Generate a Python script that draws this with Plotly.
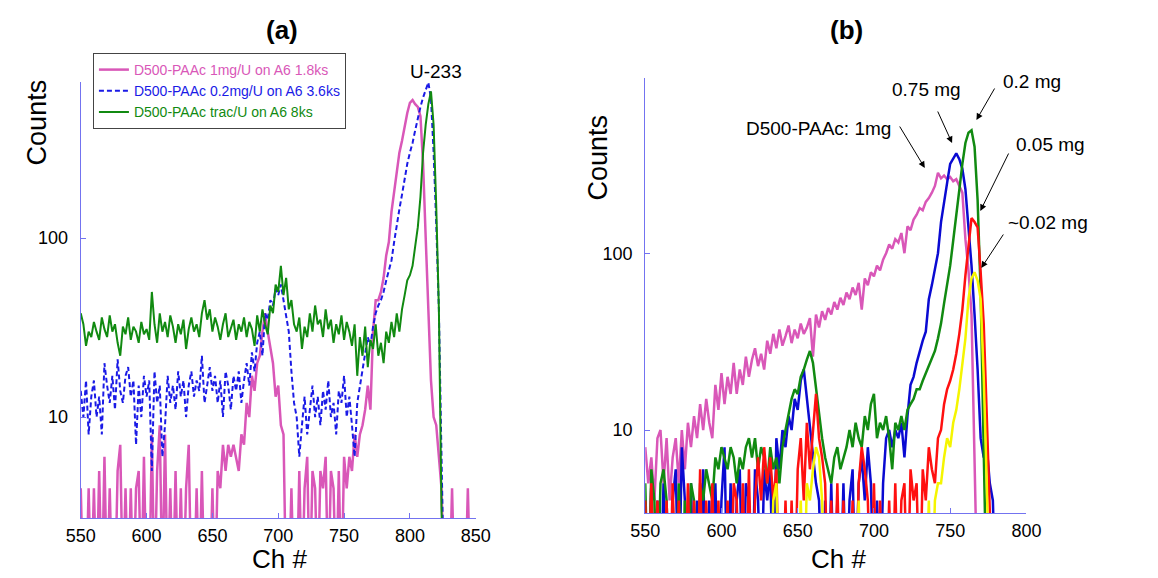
import plotly.graph_objects as go

W = 1158
H = 578
FONT = 'Liberation Sans, Arial, sans-serif'
AXIS_BLUE = '#7373f0'

PINK = '#d957b8'
BLUE_A = '#1a1ae6'
GREEN = '#118a11'
BLUE_B = '#0a0ad2'
RED = '#ff1010'
YELLOW = '#f5f500'

# channel step used when reading the spectra off the picture
STEP = 2
START_CH = 550

# ---- panel (a): U-233 spectra, counts per channel (550 .. 850) ----
a_names = ['D500-PAAc 1mg/U on A6 1.8ks',
           'D500-PAAc 0.2mg/U on A6 3.6ks',
           'D500-PAAc trac/U on A6 8ks']

a_pink = [4, 1, 1, 4, 1, 4, 1, 5, 1, 6,
          1, 4, 1, 1, 5, 7, 1, 4, 1, 4,
          1, 4, 5, 1, 6, 1, 1, 8, 1, 5,
          9, 1, 8, 1, 4, 1, 5, 1, 4, 1,
          4, 7, 1, 1, 4, 1, 5, 1, 1, 1,
          4, 1, 5, 4, 7, 5, 7, 6, 7, 6,
          5, 8, 7, 12, 10, 17, 14, 20, 22, 30,
          38, 30, 24, 20, 13, 15, 9, 8, 1, 1,
          4, 1, 1, 5, 1, 4, 6, 1, 5, 4,
          1, 5, 4, 6, 1, 5, 4, 1, 5, 1,
          6, 4, 6, 5, 8, 6, 8, 9, 11, 15,
          11, 30, 45, 45, 50, 60, 80, 95, 140, 180,
          230, 300, 350, 430, 500, 570, 590, 560, 540, 480,
          260, 100, 40, 16, 10, 9, 6, 4, 1, 1,
          1, 4, 1, 1, 1, 1, 1, 4, 1, 1,
          1]

a_blue = [14, 10, 16, 8, 13, 16, 10, 13, 8, 20,
          15, 12, 17, 11, 21, 14, 12, 17, 19, 13,
          16, 7, 15, 10, 17, 13, 16, 5, 18, 12,
          15, 6, 9, 17, 12, 15, 11, 18, 13, 16,
          10, 15, 18, 13, 16, 14, 22, 12, 15, 19,
          14, 17, 12, 16, 10, 18, 15, 11, 17, 14,
          18, 12, 16, 20, 15, 23, 18, 26, 30, 22,
          38, 35, 45, 42, 52, 48, 55, 45, 38, 30,
          18, 12, 10, 6, 9, 13, 8, 11, 15, 10,
          13, 9, 14, 11, 16, 10, 12, 8, 14, 12,
          17, 10, 13, 9, 6, 12, 15, 18, 22, 28,
          25, 32, 38, 42, 45, 50, 58, 65, 75, 95,
          120, 145, 175, 220, 260, 300, 340, 400, 470, 540,
          610, 680, 740, 600, 300, 120, 40, 6, 1, 1,
          1, 1, 1, 1, 1, 1, 1, 1, 1, 1,
          1]

a_green = [38, 33, 25, 30, 28, 34, 30, 27, 36, 31,
           28, 37, 30, 33, 26, 22, 32, 29, 36, 27,
           32, 30, 26, 34, 29, 31, 27, 50, 33, 26,
           38, 30, 34, 28, 37, 32, 26, 33, 29, 35,
           24, 31, 36, 30, 33, 28, 38, 45, 35, 40,
           30, 36, 32, 27, 33, 38, 28, 31, 35, 27,
           33, 30, 36, 28, 34, 31, 25, 37, 30, 40,
           33, 29, 42, 38, 55, 50, 70, 48, 60, 40,
           45, 33, 30, 36, 24, 32, 28, 38, 30, 42,
           33, 35, 28, 40, 31, 35, 26, 33, 29, 37,
           27, 34, 30, 25, 33, 17, 28, 22, 32, 19,
           27, 24, 33, 22, 26, 20, 30, 26, 34, 28,
           38, 30, 40, 48, 58, 62, 70, 90, 115, 170,
           300, 430, 560, 660, 430, 150, 40, 3, 1, 1,
           1, 1, 1, 1, 1, 1, 1, 1, 1, 1,
           1]

# ---- panel (b): D500-PAAc loadings, counts per channel (550 .. 790) ----
b_pink = [8, 5, 7, 4, 9, 10, 5, 9, 4, 7,
          9, 5, 10, 6, 11, 8, 12, 9, 14, 10,
          15, 11, 9, 18, 13, 21, 14, 20, 16, 24,
          16, 22, 18, 26, 20, 25, 29, 23, 27, 22,
          32, 27, 35, 29, 37, 30, 34, 39, 31, 37,
          33, 40, 35, 38, 43, 26, 45, 38, 47, 42,
          49, 45, 53, 48, 56, 51, 60, 55, 64, 58,
          68, 48, 72, 66, 78, 74, 85, 80, 92, 100,
          112, 106, 120, 115, 130, 100, 142, 135, 155, 165,
          180, 175, 195, 205, 220, 240, 285, 265, 275, 262,
          270, 255, 262, 240, 220, 120, 80, 45, 10, 1,
          1, 1, 1, 1, 1, 1, 1, 1, 1, 1,
          1]

b_blue = [4, 1, 5, 1, 4, 1, 5, 1, 1, 4,
          6, 1, 8, 4, 1, 5, 1, 4, 1, 6,
          1, 4, 1, 5, 1, 4, 8, 1, 5, 1,
          4, 6, 1, 5, 4, 1, 6, 4, 1, 6,
          4, 6, 1, 9, 6, 10, 8, 12, 10, 15,
          13, 19, 22, 15, 10, 7, 5, 4, 1, 4,
          1, 5, 1, 4, 1, 5, 1, 4, 6, 1,
          5, 7, 4, 8, 5, 1, 4, 1, 5, 9,
          10, 8, 10, 9, 11, 7, 12, 18, 20, 24,
          28, 32, 36, 55, 66, 80, 100, 150, 200, 250,
          320, 340, 367, 340, 300, 230, 140, 85, 45, 22,
          9, 7, 8, 5, 4, 1, 1, 1, 1, 1,
          1]

b_green = [5, 1, 6, 4, 1, 5, 6, 4, 1, 4,
           1, 5, 1, 4, 1, 5, 4, 1, 5, 4,
           6, 5, 4, 7, 6, 8, 7, 6, 8, 7,
           5, 7, 6, 8, 9, 7, 9, 6, 8, 7,
           5, 8, 6, 7, 5, 8, 10, 12, 15, 17,
           16, 20, 22, 25, 28, 24, 17, 12, 9, 7,
           6, 5, 7, 8, 6, 7, 8, 10, 8, 11,
           9, 8, 12, 10, 14, 16, 9, 11, 10, 12,
           9, 6, 11, 10, 12, 10, 13, 14, 15, 17,
           17, 19, 21, 23, 25, 28, 33, 40, 52, 65,
           85, 118, 160, 228, 320, 420, 480, 495, 400, 200,
           60, 12, 1, 1, 1, 1, 1, 1, 1, 1,
           1]

b_red = [4, 1, 5, 1, 4, 1, 1, 4, 1, 5,
         1, 4, 1, 1, 5, 1, 4, 1, 6, 1,
         4, 1, 5, 1, 4, 1, 1, 4, 1, 5,
         4, 1, 5, 1, 6, 1, 4, 7, 4, 8,
         5, 7, 4, 6, 1, 1, 4, 1, 4, 1,
         6, 9, 4, 11, 6, 10, 16, 9, 7, 5,
         1, 4, 1, 5, 1, 4, 1, 1, 4, 1,
         5, 8, 6, 4, 1, 5, 1, 4, 1, 1,
         4, 1, 5, 1, 4, 5, 1, 6, 4, 5,
         1, 6, 4, 8, 6, 5, 9, 10, 14, 17,
         19, 22, 27, 35, 48, 75, 110, 158, 150, 140,
         78, 40, 12, 4, 1, 1, 1, 1, 1, 1,
         1]

b_yellow = [1, 1, 1, 1, 1, 1, 1, 1, 1, 1,
            1, 1, 1, 1, 1, 1, 1, 1, 1, 1,
            1, 1, 1, 1, 1, 1, 1, 1, 1, 1,
            1, 1, 1, 1, 1, 1, 1, 1, 1, 1,
            1, 1, 4, 5, 1, 1, 1, 1, 1, 1,
            1, 4, 1, 5, 4, 6, 8, 7, 4, 1,
            1, 1, 1, 1, 1, 1, 1, 1, 1, 1,
            4, 1, 1, 1, 1, 1, 1, 1, 1, 1,
            1, 1, 1, 1, 1, 1, 1, 1, 1, 1,
            1, 1, 1, 4, 1, 4, 5, 5, 7, 9,
            8, 11, 13, 17, 24, 33, 55, 72, 78, 70,
            55, 20, 5, 1, 1, 1, 1, 1, 1, 1,
            1]

a_ticks = [550, 600, 650, 700, 750, 800, 850]
b_ticks = [550, 600, 650, 700, 750, 800]
y_ticks = [10, 100]

# panel (b) labels: text, text centre, arrow tail, arrow head (pixels)
b_labels = [
    ('D500-PAAc: 1mg', (825, 128), (908, 125), (934, 168)),
    ('0.75 mg', (936, 90), (947, 110), (962, 143)),
    ('0.2 mg', (1044, 81), (1006, 87), (987, 120)),
    ('0.05 mg', (1063, 144), (1020, 152), (991, 211)),
    ('~0.02 mg', (1060, 222), (1015, 233), (992, 268)),
]


def px(x):
    return x / W


def py(y):
    return 1 - y / H


def channels(values):
    return list(range(START_CH, START_CH + STEP * len(values), STEP))


def spectrum(values, color, width, xaxis, yaxis, name=None, dash='solid'):
    return go.Scatter(
        x=channels(values), y=values, mode='lines',
        line=dict(color=color, width=width, dash=dash),
        xaxis=xaxis, yaxis=yaxis,
        name=f'<span style="color:{color}">{name}</span>' if name else None,
        showlegend=name is not None, hoverinfo='skip')


def axis_style(**kw):
    style = dict(showline=True, linecolor=AXIS_BLUE, linewidth=1,
                 ticks='inside', ticklen=5, tickcolor=AXIS_BLUE,
                 showgrid=False, zeroline=False, mirror=False,
                 tickfont=dict(family=FONT, size=18, color='black'))
    style.update(kw)
    return style


def text(x, y, s, size=19, bold=False, angle=0):
    return dict(x=px(x), y=py(y), xref='paper', yref='paper',
                text=f'<b>{s}</b>' if bold else s, showarrow=False,
                textangle=angle, xanchor='center', yanchor='middle',
                font=dict(family=FONT, size=size, color='black'))


def arrow(tail, head):
    return dict(x=px(head[0]), y=py(head[1]), xref='paper', yref='paper',
                ax=tail[0] - head[0], ay=tail[1] - head[1],
                text='', showarrow=True, arrowhead=2, arrowsize=1.3,
                arrowwidth=1, arrowcolor='black')


def build_figure():
    fig = go.Figure()

    fig.add_trace(spectrum(a_pink, PINK, 2.5, 'x', 'y', a_names[0]))
    fig.add_trace(spectrum(a_blue, BLUE_A, 2, 'x', 'y', a_names[1], dash='5px,3px'))
    fig.add_trace(spectrum(a_green, GREEN, 2, 'x', 'y', a_names[2]))

    for values, color in [(b_pink, PINK), (b_blue, BLUE_B), (b_green, GREEN),
                          (b_red, RED), (b_yellow, YELLOW)]:
        fig.add_trace(spectrum(values, color, 2.5, 'x2', 'y2'))

    annotations = [
        text(274, 30, '(a)', size=26, bold=True),
        text(854, 30, '(b)', size=26, bold=True),
        text(272, 559, 'Ch #', size=26),
        text(845, 559, 'Ch #', size=26),
        text(23, 122, 'Counts', size=27, angle=-90),
        text(598, 158, 'Counts', size=27, angle=-90),
        text(432, 71, 'U-233', size=19),
    ]
    for label, centre, tail, head in b_labels:
        annotations.append(text(centre[0], centre[1], label, size=19))
        annotations.append(arrow(tail, head))

    fig.update_layout(
        width=W, height=H,
        margin=dict(l=0, r=0, t=0, b=0),
        paper_bgcolor='white', plot_bgcolor='white',
        font=dict(family=FONT, size=14, color='black'),
        xaxis=axis_style(domain=[px(67.5), px(473)], range=[550, 850],
                         tickvals=a_ticks, ticklabelstandoff=1, anchor='y'),
        yaxis=axis_style(domain=[py(518), py(82)], type='log',
                         range=[0.436, 2.872], tickvals=y_ticks,
                         ticklabelstandoff=8, anchor='x'),
        xaxis2=axis_style(domain=[px(647), px(1038.3)], range=[550, 800],
                          tickvals=b_ticks, ticklabelstandoff=1, anchor='y2'),
        yaxis2=axis_style(domain=[py(513), py(78.3)], type='log',
                          range=[0.531, 2.989], tickvals=y_ticks,
                          ticklabelstandoff=8, anchor='x2'),
        legend=dict(x=px(80), y=py(53), xanchor='left', yanchor='top',
                    bordercolor='#444444', borderwidth=1, bgcolor='white',
                    font=dict(family=FONT, size=14), tracegroupgap=0),
        annotations=annotations,
        showlegend=True,
    )
    return fig


def main():
    fig = build_figure()
    fig.write_html('out.html',
                   config={'displayModeBar': False},
                   post_script="document.body.style.margin='0';"
                               "document.body.style.overflow='hidden';")


if __name__ == '__main__':
    main()
